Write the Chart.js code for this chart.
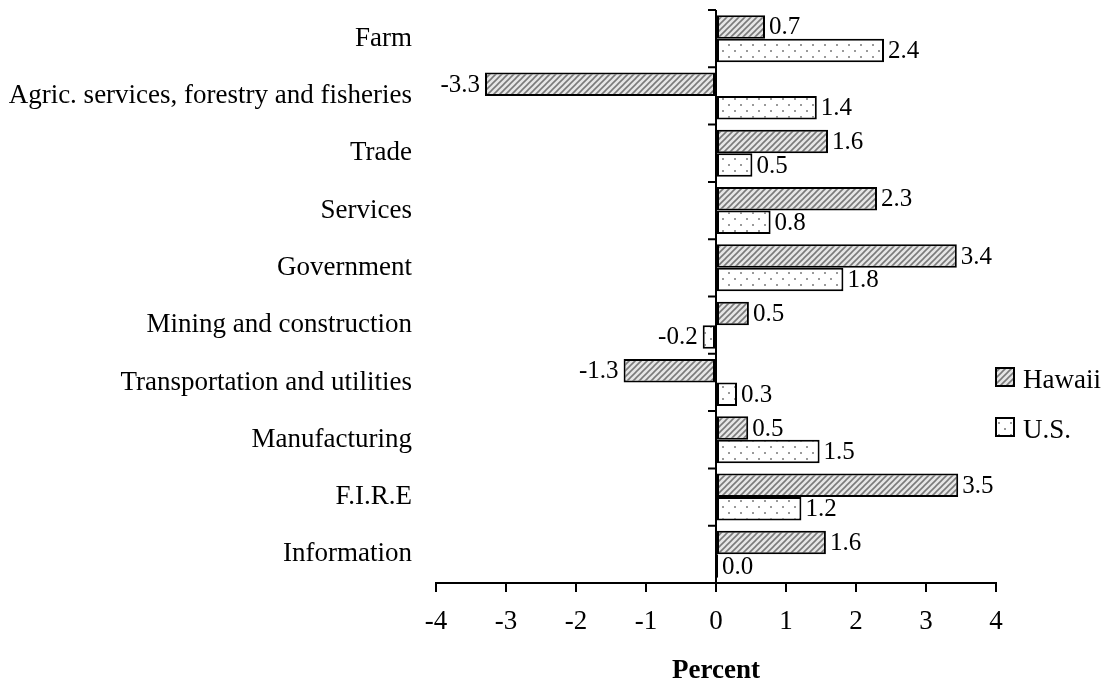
<!DOCTYPE html>
<html>
<head>
<meta charset="utf-8">
<script src="https://cdn.jsdelivr.net/npm/chart.js@4.4.0/dist/chart.umd.min.js"></script>
<style>
  body { margin: 0; background: #fff; }
  canvas { display: block; }
</style>
</head>
<body>
<canvas id="chart" width="1105" height="685"></canvas>
<script>
// données
const categories = [
    'Farm',
    'Agric. services, forestry and fisheries',
    'Trade',
    'Services',
    'Government',
    'Mining and construction',
    'Transportation and utilities',
    'Manufacturing',
    'F.I.R.E',
    'Information'
];
const hawaiiValues = [0.7, -3.3, 1.6, 2.3, 3.44, 0.47, -1.32, 0.46, 3.46, 1.57];
const usValues = [2.4, 1.44, 0.52, 0.78, 1.82, -0.19, 0.3, 1.48, 1.22, 0.03];
const xTicks = [-4, -3, -2, -1, 0, 1, 2, 3, 4];

const FONT = 'Liberation Serif, Times New Roman, serif';

// motifs de remplissage
function hatchPattern() {
    const c = document.createElement('canvas');
    c.width = 6; c.height = 6;
    const g = c.getContext('2d');
    g.fillStyle = '#e6e6e6';
    g.fillRect(0, 0, 6, 6);
    g.strokeStyle = '#7a7a7a';
    g.lineWidth = 1.6;
    g.beginPath();
    g.moveTo(-1, 7); g.lineTo(7, -1);
    g.moveTo(-4, 4); g.lineTo(4, -4);
    g.moveTo(2, 10); g.lineTo(10, 2);
    g.stroke();
    return g.createPattern(c, 'repeat');
}

function dotPattern() {
    const c = document.createElement('canvas');
    c.width = 12; c.height = 12;
    const g = c.getContext('2d');
    g.fillStyle = '#ffffff';
    g.fillRect(0, 0, 12, 12);
    g.fillStyle = '#9a9a9a';
    g.fillRect(2, 2, 2, 2);
    g.fillRect(8, 8, 2, 2);
    return g.createPattern(c, 'repeat');
}

const hatch = hatchPattern();
const dots = dotPattern();

// axe vertical à zéro avec petites graduations entre catégories
const zeroAxisPlugin = {
    id: 'zeroAxis',
    afterDatasetsDraw(chart) {
        const { ctx, chartArea, scales } = chart;
        const x0 = scales.x.getPixelForValue(0);
        const y = scales.y;
        const step = y.getPixelForValue(1) - y.getPixelForValue(0);
        ctx.save();
        ctx.strokeStyle = '#000';
        ctx.lineWidth = 2;
        ctx.beginPath();
        ctx.moveTo(x0, chartArea.top);
        ctx.lineTo(x0, chartArea.bottom);
        for (let i = 0; i <= categories.length; i++) {
            const ty = y.getPixelForValue(i) - step / 2;
            ctx.moveTo(x0 - 8, ty);
            ctx.lineTo(x0, ty);
        }
        ctx.stroke();
        ctx.restore();
    }
};

// étiquettes de valeurs au bout des barres
const valueLabelsPlugin = {
    id: 'valueLabels',
    afterDatasetsDraw(chart) {
        const { ctx } = chart;
        ctx.save();
        ctx.font = '25px ' + FONT;
        ctx.fillStyle = '#000';
        ctx.textBaseline = 'middle';
        chart.data.datasets.forEach((ds, di) => {
            chart.getDatasetMeta(di).data.forEach((bar, i) => {
                const v = ds.data[i];
                const txt = v.toFixed(1);
                if (v < 0) {
                    ctx.textAlign = 'right';
                    ctx.fillText(txt, bar.x - 5, bar.y + 1);
                } else {
                    ctx.textAlign = 'left';
                    ctx.fillText(txt, bar.x + 4, bar.y + 1);
                }
            });
        });
        ctx.restore();
    }
};

// légende dessinée à droite
const legendPlugin = {
    id: 'sideLegend',
    afterDraw(chart) {
        const { ctx } = chart;
        const items = [
            { text: 'Hawaii', fill: hatch, y: 368 },
            { text: 'U.S.', fill: dots, y: 418 }
        ];
        ctx.save();
        items.forEach(it => {
            ctx.fillStyle = it.fill;
            ctx.fillRect(996, it.y, 18, 18);
            ctx.strokeStyle = '#000';
            ctx.lineWidth = 2;
            ctx.strokeRect(996, it.y, 18, 18);
            ctx.fillStyle = '#000';
            ctx.font = '27px ' + FONT;
            ctx.textAlign = 'left';
            ctx.textBaseline = 'alphabetic';
            ctx.fillText(it.text, 1023, it.y + 20);
        });
        ctx.restore();
    }
};

new Chart(document.getElementById('chart'), {
    type: 'bar',
    data: {
        labels: categories,
        datasets: [
            {
                label: 'Hawaii',
                data: hawaiiValues,
                backgroundColor: hatch,
                borderColor: '#000',
                borderWidth: 2,
                borderSkipped: false
            },
            {
                label: 'U.S.',
                data: usValues,
                backgroundColor: dots,
                borderColor: '#000',
                borderWidth: 2,
                borderSkipped: false
            }
        ]
    },
    options: {
        indexAxis: 'y',
        responsive: false,
        animation: false,
        devicePixelRatio: 1,
        categoryPercentage: 0.82,
        barPercentage: 1,
        layout: {
            padding: { top: 10, right: 109, bottom: 0, left: 0 }
        },
        scales: {
            x: {
                min: -4,
                max: 4,
                afterBuildTicks(scale) {
                    scale.ticks = xTicks.map(v => ({ value: v }));
                },
                afterFit(scale) {
                    scale.height = 102;
                },
                grid: {
                    drawOnChartArea: false,
                    color: '#000',
                    lineWidth: 2,
                    tickLength: 9
                },
                border: { color: '#000', width: 2 },
                ticks: {
                    color: '#000',
                    font: { family: FONT, size: 27 },
                    padding: 14
                },
                title: {
                    display: true,
                    text: 'Percent',
                    color: '#000',
                    font: { family: FONT, size: 27, weight: 'bold', lineHeight: 1 },
                    padding: { top: 0, bottom: 0 }
                }
            },
            y: {
                afterFit(scale) {
                    scale.width = 436;
                    scale.paddingTop = 0;
                    scale.paddingBottom = 0;
                },
                grid: { display: false },
                border: { display: false },
                ticks: {
                    color: '#000',
                    font: { family: FONT, size: 27 },
                    padding: 16
                }
            }
        },
        plugins: {
            legend: { display: false },
            tooltip: { enabled: false }
        }
    },
    plugins: [zeroAxisPlugin, valueLabelsPlugin, legendPlugin]
});
</script>
</body>
</html>
